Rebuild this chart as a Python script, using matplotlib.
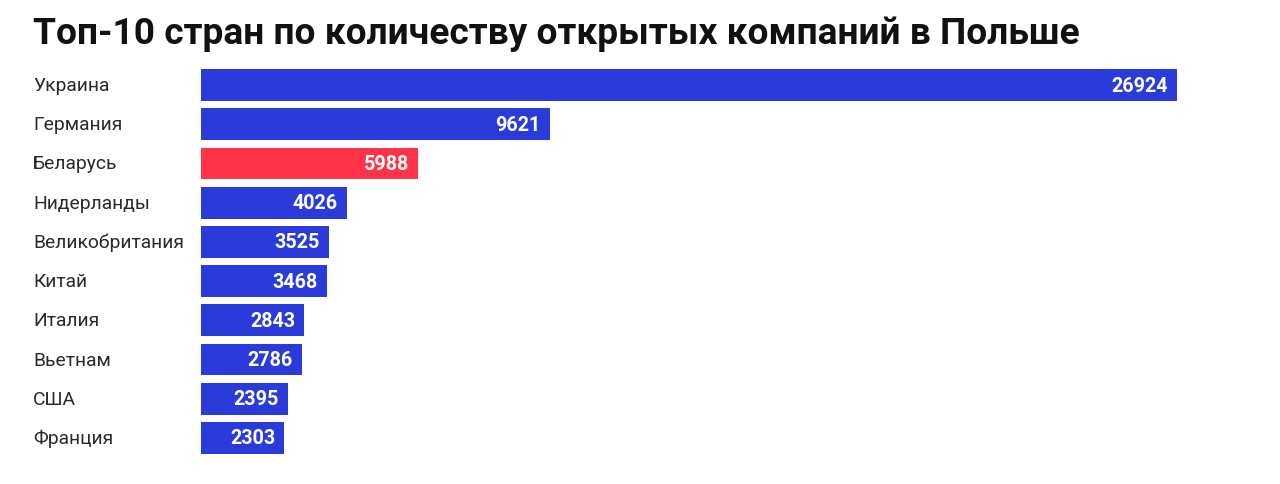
import matplotlib
matplotlib.use('agg')
from matplotlib import pyplot as plt

countries = ['Украина', 'Германия', 'Беларусь', 'Нидерланды', 'Великобритания',
             'Китай', 'Италия', 'Вьетнам', 'США', 'Франция']
counts = [26924, 9621, 5988, 4026, 3525, 3468, 2843, 2786, 2395, 2303]
highlight = 'Беларусь'

BLUE = '#2a3bd9'
RED = '#ff3347'

plt.rcParams['font.family'] = ['Roboto', 'DejaVu Sans']

fig = plt.figure(figsize=(12.8, 4.85), dpi=100)
ax = fig.add_axes([201 / 1280, 1 - 458.6 / 485, (1177 - 201) / 1280, 392.2 / 485])

colors = [RED if c == highlight else BLUE for c in countries]
ypos = list(range(len(countries)))
ax.barh(ypos, counts, height=0.81, color=colors)
ax.set_xlim(0, max(counts))
ax.set_ylim(len(countries) - 0.5, -0.5)

for y, v in zip(ypos, counts):
    ax.annotate(str(v), xy=(v, y), xytext=(-6.5, 0), textcoords='offset points',
                ha='right', va='center', color='white', fontsize=14.2,
                fontweight='bold')

# country labels at the left edge of the figure
for y, name in zip(ypos, countries):
    ax.text(-168 / 976 * max(counts), y, name, ha='left', va='center',
            fontsize=13.9, color='#2a2a2a')

ax.set_xticks([])
ax.set_yticks([])
for s in ax.spines.values():
    s.set_visible(False)

fig.text(33 / 1280, 1 - 43.5 / 485, 'Топ-10 стран по количеству открытых компаний в Польше',
         ha='left', va='baseline', fontsize=26.7, fontweight='bold', color='#111111')

plt.savefig('out.png', dpi=100)
